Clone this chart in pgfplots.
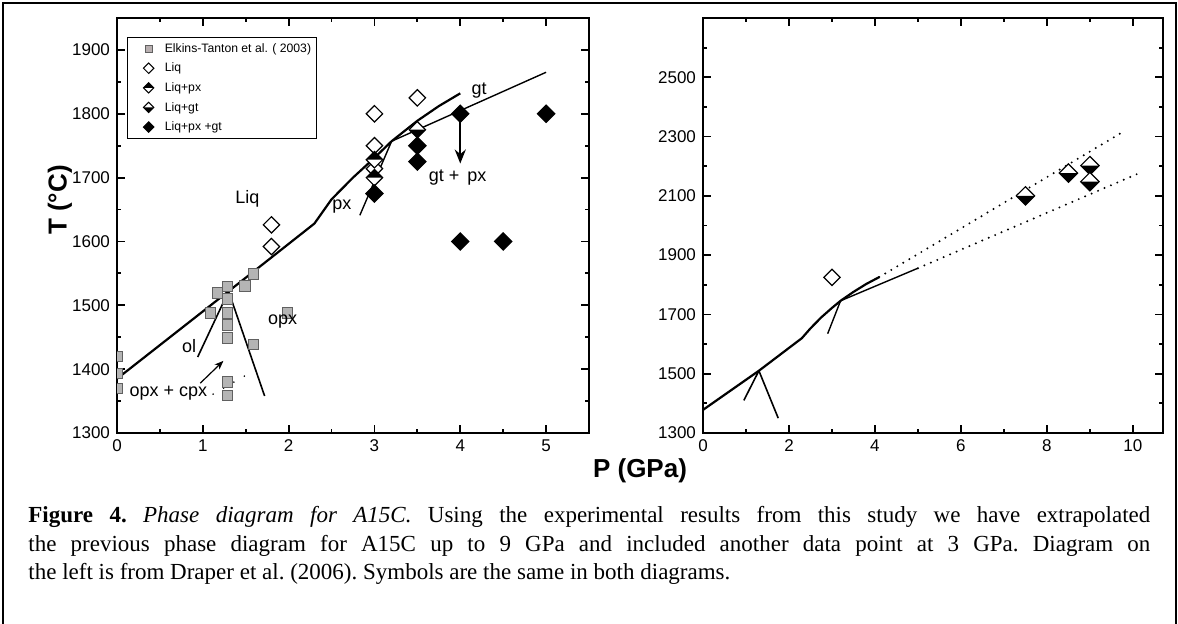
\documentclass[border=0pt]{standalone}
\usepackage{fontspec}
\setmainfont{Liberation Sans}
\newfontfamily\capfont{Liberation Serif}
\usepackage{pgfplots}
\pgfplotsset{compat=1.18}
\usetikzlibrary{arrows.meta}

\definecolor{sqfill}{HTML}{B4B4B4}
\definecolor{sqdraw}{HTML}{606060}
\definecolor{legsq}{HTML}{B8AFB0}

\pgfdeclareplotmark{dia}{%
  \pgfpathmoveto{\pgfqpoint{0pt}{\pgfplotmarksize}}%
  \pgfpathlineto{\pgfqpoint{\pgfplotmarksize}{0pt}}%
  \pgfpathlineto{\pgfqpoint{0pt}{-\pgfplotmarksize}}%
  \pgfpathlineto{\pgfqpoint{-\pgfplotmarksize}{0pt}}%
  \pgfpathclose
  \pgfusepathqfillstroke
}
\pgfdeclareplotmark{diatop}{%
  \pgfsetfillcolor{white}%
  \pgfpathmoveto{\pgfqpoint{0pt}{\pgfplotmarksize}}%
  \pgfpathlineto{\pgfqpoint{\pgfplotmarksize}{0pt}}%
  \pgfpathlineto{\pgfqpoint{0pt}{-\pgfplotmarksize}}%
  \pgfpathlineto{\pgfqpoint{-\pgfplotmarksize}{0pt}}%
  \pgfpathclose
  \pgfusepathqfill
  \pgfsetfillcolor{black}%
  \pgfpathmoveto{\pgfqpoint{-\pgfplotmarksize}{0pt}}%
  \pgfpathlineto{\pgfqpoint{0pt}{\pgfplotmarksize}}%
  \pgfpathlineto{\pgfqpoint{\pgfplotmarksize}{0pt}}%
  \pgfpathclose
  \pgfusepathqfill
  \pgfpathmoveto{\pgfqpoint{0pt}{\pgfplotmarksize}}%
  \pgfpathlineto{\pgfqpoint{\pgfplotmarksize}{0pt}}%
  \pgfpathlineto{\pgfqpoint{0pt}{-\pgfplotmarksize}}%
  \pgfpathlineto{\pgfqpoint{-\pgfplotmarksize}{0pt}}%
  \pgfpathclose
  \pgfusepathqstroke
}
\pgfdeclareplotmark{diabot}{%
  \pgfsetfillcolor{white}%
  \pgfpathmoveto{\pgfqpoint{0pt}{\pgfplotmarksize}}%
  \pgfpathlineto{\pgfqpoint{\pgfplotmarksize}{0pt}}%
  \pgfpathlineto{\pgfqpoint{0pt}{-\pgfplotmarksize}}%
  \pgfpathlineto{\pgfqpoint{-\pgfplotmarksize}{0pt}}%
  \pgfpathclose
  \pgfusepathqfill
  \pgfsetfillcolor{black}%
  \pgfpathmoveto{\pgfqpoint{-\pgfplotmarksize}{0pt}}%
  \pgfpathlineto{\pgfqpoint{0pt}{-\pgfplotmarksize}}%
  \pgfpathlineto{\pgfqpoint{\pgfplotmarksize}{0pt}}%
  \pgfpathclose
  \pgfusepathqfill
  \pgfpathmoveto{\pgfqpoint{0pt}{\pgfplotmarksize}}%
  \pgfpathlineto{\pgfqpoint{\pgfplotmarksize}{0pt}}%
  \pgfpathlineto{\pgfqpoint{0pt}{-\pgfplotmarksize}}%
  \pgfpathlineto{\pgfqpoint{-\pgfplotmarksize}{0pt}}%
  \pgfpathclose
  \pgfusepathqstroke
}

\pgfplotsset{
  myaxis/.style={
    scale only axis,
    axis line style={line width=1pt},
    every tick/.style={black, line width=0.9pt},
    major tick length=4pt, minor tick length=2pt,
    tick label style={font=\fontsize{8.5}{10}\selectfont},
    /pgf/number format/assume math mode=true,
    /pgf/number format/set thousands separator={},
  },
  legimg/.style={legend image code/.code={\path[draw=none] (0pt,0pt) (16pt,0pt); \draw[##1, only marks] plot coordinates {(8.5pt,0pt)};}},
  sq/.style={only marks, mark=square*, mark size=2.6pt, mark options={fill=sqfill, draw=sqdraw, line width=0.5pt}},
  liq/.style={only marks, mark=dia, mark size=4.1pt, mark options={fill=white, draw=black, line width=0.6pt}},
  liqpx/.style={only marks, mark=diatop, mark size=4.1pt, mark options={draw=black, line width=0.6pt}},
  liqgt/.style={only marks, mark=diabot, mark size=4.1pt, mark options={draw=black, line width=0.6pt}},
  solid/.style={only marks, mark=dia, mark size=4.3pt, mark options={fill=black, draw=black, line width=0.6pt}},
  thickl/.style={black, line width=1.1pt},
  thinl/.style={black, line width=0.7pt},
}

\begin{document}
\begin{tikzpicture}
\useasboundingbox (0,0) rectangle (589pt,311.5pt);
% frame
\draw[line width=1pt] (1.5pt,-1pt) -- (1.5pt,310pt) -- (588pt,310pt) -- (588pt,-1pt);

% ---------------- left axis
\begin{axis}[myaxis, at={(58.5pt,95pt)}, anchor=south west,
  width=236pt, height=207.5pt,
  xmin=0, xmax=5.5, ymin=1300, ymax=1950,
  clip marker paths=true,
  xtick={0,1,2,3,4,5}, minor xtick={0.5,1.5,2.5,3.5,4.5},
  ytick={1300,1400,1500,1600,1700,1800,1900}, minor ytick={1350,1450,1550,1650,1750,1850},
  legend style={at={(axis cs:0.117,1921)}, anchor=north west,
    font=\fontsize{6.1}{7}\selectfont, draw=black, line width=0.6pt,
    inner sep=2pt, row sep=2.3pt, nodes={inner sep=0.6pt, text height=5pt, text depth=1.3pt},
    cells={anchor=west}},
]
\addlegendimage{legimg, only marks, mark=square*, mark size=1.8pt, mark options={fill=legsq, draw=sqdraw, line width=0.4pt}}
\addlegendentry{Elkins-Tanton et al. ( 2003)}
\addlegendimage{legimg, only marks, mark=dia, mark size=2.6pt, mark options={fill=white, draw=black, line width=0.5pt}}
\addlegendentry{Liq}
\addlegendimage{legimg, only marks, mark=diatop, mark size=2.6pt, mark options={draw=black, line width=0.5pt}}
\addlegendentry{Liq+px}
\addlegendimage{legimg, only marks, mark=diabot, mark size=2.6pt, mark options={draw=black, line width=0.5pt}}
\addlegendentry{Liq+gt}
\addlegendimage{legimg, only marks, mark=dia, mark size=2.6pt, mark options={fill=black, draw=black, line width=0.5pt}}
\addlegendentry{Liq+px +gt}

% phase boundaries
\addplot[thickl, forget plot] coordinates {(0,1385) (1.3,1522) (2.3,1628) (2.5,1666) (2.75,1700) (3.0,1731) (3.2,1757) (3.5,1789) (3.75,1812) (4.0,1832)};
\addplot[thinl, forget plot] coordinates {(3.2,1757) (5.0,1865)};
\addplot[black, line width=0.8pt, forget plot] coordinates {(0.94,1419) (1.3,1522)};
\addplot[black, line width=0.8pt, forget plot] coordinates {(1.3,1522) (1.72,1358)};
\addplot[thinl, forget plot] coordinates {(2.83,1641) (3.2,1757)};
\addplot[black, line width=0.9pt, line cap=round, dash pattern=on 0pt off 6pt, forget plot] coordinates {(1.12,1361) (1.6,1398)};

% data
\addplot[sq, forget plot] coordinates {(0,1420) (0,1393) (0,1370) (1.17,1519) (1.29,1529) (1.29,1510) (1.49,1530) (1.59,1549) (1.09,1488) (1.29,1488) (1.29,1469) (1.29,1449) (1.59,1439) (1.99,1488) (1.29,1380) (1.29,1359)};
\addplot[liq, forget plot] coordinates {(1.8,1626) (1.8,1592) (3.0,1800) (3.0,1750) (3.0,1714) (3.5,1825)};
\addplot[liqpx, forget plot] coordinates {(3.0,1728) (3.0,1700)};
\addplot[liqgt, forget plot] coordinates {(3.5,1775)};
\addplot[solid, forget plot] coordinates {(3.0,1675) (3.5,1750) (3.5,1725) (4.0,1800) (4.0,1600) (4.5,1600) (5.0,1800)};

% arrows
\draw[line width=1.1pt, -{Stealth[length=7pt,width=5.5pt]}] (axis cs:4,1792) -- (axis cs:4,1722);
\draw[line width=0.6pt, -{Stealth[length=4.5pt,width=3.5pt]}] (axis cs:0.97,1378) -- (axis cs:1.24,1413);

% labels
\begin{scope}[every node/.style={font=\fontsize{9}{10}\selectfont, inner sep=0pt}]
\node at (axis cs:1.52,1666) {Liq};
\node at (axis cs:0.84,1436) {ol};
\node at (axis cs:1.93,1475) {opx};
\node at (axis cs:0.6,1362) {opx + cpx};
\node at (axis cs:2.62,1655) {px};
\node at (axis cs:4.22,1837) {gt};
\node at (axis cs:3.97,1700) {gt +\, px};
\end{scope}
\end{axis}

% ---------------- right axis
\begin{axis}[myaxis, at={(351.5pt,95pt)}, anchor=south west,
  width=230pt, height=207.5pt,
  xmin=0, xmax=10.7, ymin=1300, ymax=2700,
  xtick={0,2,4,6,8,10}, minor xtick={1,3,5,7,9},
  ytick={1300,1500,1700,1900,2100,2300,2500}, minor ytick={1400,1600,1800,2000,2200,2400,2600},
]
\addplot[thickl] coordinates {(0,1378) (1.3,1510) (2.3,1620) (2.5,1653) (2.75,1690) (3.0,1722) (3.2,1746) (3.5,1776) (3.8,1803) (4.1,1826)};
\addplot[thinl] coordinates {(3.2,1746) (5.0,1856)};
\addplot[black, line width=0.8pt] coordinates {(0.95,1410) (1.3,1510)};
\addplot[black, line width=0.8pt] coordinates {(1.3,1510) (1.75,1350)};
\addplot[thinl] coordinates {(2.9,1635) (3.2,1746)};
\addplot[black, line width=1.1pt, line cap=round, dash pattern=on 0pt off 3.5pt] coordinates {(4.1,1826) (9.7,2310)};
\addplot[black, line width=1.1pt, line cap=round, dash pattern=on 0pt off 3.5pt] coordinates {(5.0,1856) (10.2,2180)};
\addplot[liq] coordinates {(3.0,1825)};
\addplot[liqgt, mark size=4.6pt] coordinates {(7.5,2100) (8.5,2177) (9.0,2202) (9.0,2148)};
\end{axis}

% axis titles
\node[rotate=90, font=\bfseries\fontsize{13}{15}\selectfont] at (30pt,211.5pt) {T (°C)};
\node[font=\bfseries\fontsize{13}{15}\selectfont] at (320pt,76pt) {P (GPa)};

% caption
\node[anchor=north west, inner sep=0pt, text width=561pt, align=justify,
      font=\capfont\fontsize{11.5}{14.2}\selectfont] at (14pt,58.5pt)
{\frenchspacing\tolerance=10000 \textbf{Figure 4.} \textit{Phase diagram for A15C.} Using the experimental results from this study we have extrapolated\linebreak
the previous phase diagram for A15C up to 9 GPa and included another data point at 3 GPa. Diagram on\linebreak
the left is from Draper et al. (2006). Symbols are the same in both diagrams.};
\end{tikzpicture}
\end{document}
